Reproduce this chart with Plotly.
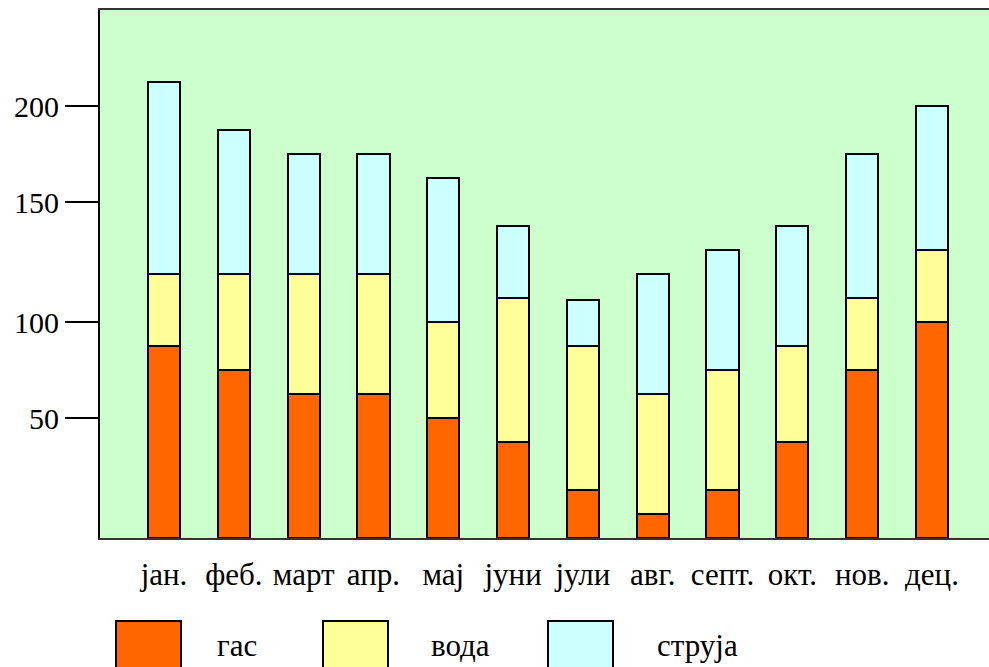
import plotly.graph_objects as go

months = ["јан.", "феб.", "март", "апр.", "мај", "јуни", "јули", "авг.", "септ.", "окт.", "нов.", "дец."]
gas = [80, 70, 60, 60, 50, 40, 20, 10, 20, 40, 70, 90]
voda = [30, 40, 50, 50, 40, 60, 60, 50, 50, 40, 30, 30]
struja = [80, 60, 50, 50, 60, 30, 19, 50, 50, 50, 60, 60]
series_names = ["гас", "вода", "струја"]
colors = ["#FF6600", "#FFFF99", "#CCFFFF"]
ytick_vals = [180, 140, 90, 50]
ytick_text = ["200", "150", "100", "50"]

W, H = 989, 667
L, R, T, B = 100, 0, 10, 129
FONT = "Liberation Serif, Times New Roman, serif"

pw, ph = W - L - R, H - T - B
first_c, last_c = 164, 932
span = pw * (len(months) - 1) / (last_c - first_c)
x0r = -(first_c - L) / pw * span
xrange = [x0r, x0r + span]

fig = go.Figure()
for name, vals, col in zip(series_names, [gas, voda, struja], colors):
    fig.add_trace(go.Bar(
        x=months, y=vals, name=name, width=0.46,
        marker=dict(color=col, line=dict(color="black", width=2)),
        showlegend=False,
    ))

def px2paper(x, y):
    return (x - L) / pw, (H - B - y) / ph

legend_boxes = [(116, 181), (323, 388), (548, 613)]
legend_text_x = [237, 460, 697]
shapes = []
annotations = []
for (x0, x1), tx, name, col in zip(legend_boxes, legend_text_x, series_names, colors):
    a0, b0 = px2paper(x0, 621)
    a1, b1 = px2paper(x1, 670)
    shapes.append(dict(type="rect", xref="paper", yref="paper", x0=a0, x1=a1, y0=b0, y1=b1,
                       fillcolor=col, line=dict(color="black", width=2)))
    ax, ay = px2paper(tx, 645)
    annotations.append(dict(xref="paper", yref="paper", x=ax, y=ay, text=name, showarrow=False,
                            xanchor="center", yanchor="middle",
                            font=dict(family=FONT, size=31, color="black")))

fig.update_layout(
    width=W, height=H,
    margin=dict(l=L, r=R, t=T, b=B, pad=0),
    barmode="stack",
    plot_bgcolor="#CCFFCC",
    paper_bgcolor="white",
    font=dict(family=FONT, size=31, color="black"),
    shapes=shapes,
    annotations=annotations,
    xaxis=dict(
        type="category",
        range=xrange,
        showline=True, linecolor="#333333", linewidth=2, mirror=True,
        ticks="outside", ticklen=8, tickcolor="rgba(0,0,0,0)",
        showgrid=False, zeroline=False,
        tickfont=dict(family=FONT, size=31, color="black"),
    ),
    yaxis=dict(
        range=[0, 220],
        showline=True, linecolor="black", linewidth=2,
        ticks="outside", ticklen=33, tickwidth=2, tickcolor="black",
        tickvals=ytick_vals, ticktext=ytick_text,
        ticklabelstandoff=0,
        showgrid=False, zeroline=False,
        tickfont=dict(family=FONT, size=30, color="black"),
    ),
)

fig.write_html("out.html",
               config={"displayModeBar": False},
               post_script="document.body.style.margin='0';document.body.style.overflow='hidden';")
